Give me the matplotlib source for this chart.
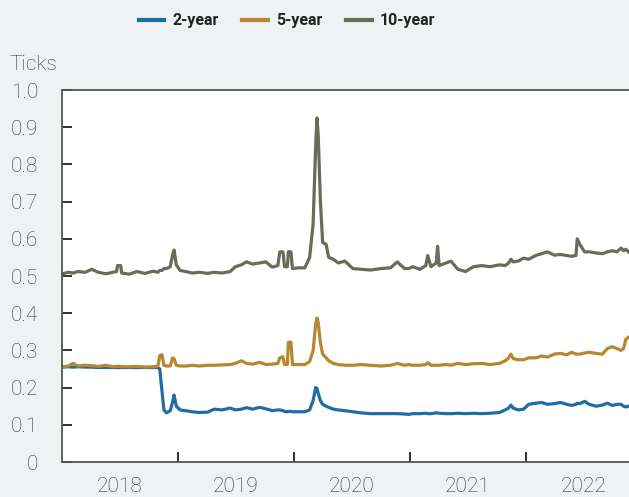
import numpy as np
import pandas as pd
import matplotlib
matplotlib.use("Agg")
import matplotlib.pyplot as plt
from matplotlib.ticker import FuncFormatter

dates = [
    "2018-01-01", "2018-01-20", "2018-02-05", "2018-02-20", "2018-03-15", "2018-04-05",
    "2018-04-25", "2018-05-20", "2018-06-10", "2018-06-22", "2018-06-25", "2018-07-05",
    "2018-07-08", "2018-08-01", "2018-08-25", "2018-09-20", "2018-10-15", "2018-10-30",
    "2018-11-05", "2018-11-12", "2018-11-18", "2018-11-26", "2018-12-08", "2018-12-15",
    "2018-12-20", "2018-12-27", "2019-01-08", "2019-01-25", "2019-02-15", "2019-03-10",
    "2019-04-05", "2019-04-25", "2019-05-20", "2019-06-15", "2019-07-01", "2019-07-20",
    "2019-08-05", "2019-08-25", "2019-09-15", "2019-10-05", "2019-10-25", "2019-11-12",
    "2019-11-18", "2019-11-28", "2019-12-03", "2019-12-12", "2019-12-15", "2019-12-23",
    "2019-12-28", "2020-01-15", "2020-02-05", "2020-02-20", "2020-03-02", "2020-03-10",
    "2020-03-14", "2020-03-18", "2020-03-25", "2020-04-01", "2020-04-12", "2020-04-20",
    "2020-05-05", "2020-05-20", "2020-06-10", "2020-07-05", "2020-08-01", "2020-08-30",
    "2020-10-01", "2020-11-01", "2020-11-22", "2020-12-15", "2020-12-28", "2021-01-10",
    "2021-02-01", "2021-02-20", "2021-02-26", "2021-03-08", "2021-03-25", "2021-03-29",
    "2021-04-03", "2021-04-25", "2021-05-10", "2021-06-01", "2021-06-25", "2021-07-20",
    "2021-08-15", "2021-09-10", "2021-10-10", "2021-10-28", "2021-11-08", "2021-11-15",
    "2021-11-22", "2021-12-08", "2021-12-25", "2022-01-10", "2022-02-01", "2022-02-20",
    "2022-03-10", "2022-04-01", "2022-04-20", "2022-05-10", "2022-05-25", "2022-06-08",
    "2022-06-12", "2022-06-20", "2022-07-05", "2022-07-20", "2022-08-10", "2022-08-30",
    "2022-09-15", "2022-09-30", "2022-10-15", "2022-10-28", "2022-11-05", "2022-11-12",
    "2022-11-20",
]

two_year = [
    .255, .256, .255, .256, .255, .255, .254, .254, .254, .254, .254, .254,
    .254, .254, .254, .254, .254, .254, .250, .190, .140, .132, .138, .160,
    .180, .150, .140, .138, .135, .133, .134, .142, .140, .145, .140, .142,
    .146, .142, .147, .143, .138, .140, .140, .138, .136, .135, .136, .136,
    .135, .135, .135, .140, .165, .200, .198, .185, .165, .155, .150, .147,
    .142, .140, .138, .135, .132, .130, .130, .130, .130, .129, .128, .130,
    .130, .131, .130, .130, .132, .132, .131, .130, .130, .131, .130, .131,
    .130, .131, .133, .140, .145, .153, .145, .140, .142, .155, .158, .160,
    .155, .157, .160, .155, .152, .155, .158, .157, .163, .155, .150, .153,
    .158, .152, .155, .155, .150, .148, .150,
]

five_year = [
    .255, .258, .265, .258, .260, .259, .257, .260, .256, .257, .257, .257,
    .256, .256, .257, .255, .256, .258, .286, .288, .260, .258, .258, .280,
    .278, .260, .258, .258, .260, .258, .260, .260, .261, .262, .265, .272,
    .265, .263, .268, .262, .263, .265, .280, .283, .262, .262, .322, .322,
    .262, .262, .262, .270, .300, .370, .387, .375, .320, .290, .280, .272,
    .265, .262, .260, .260, .262, .260, .258, .260, .265, .260, .262, .260,
    .260, .262, .267, .260, .260, .260, .260, .262, .260, .265, .262, .264,
    .265, .262, .265, .272, .280, .290, .278, .275, .275, .280, .280, .285,
    .282, .290, .292, .288, .295, .290, .290, .290, .293, .295, .292, .290,
    .305, .310, .305, .300, .305, .330, .335,
]

ten_year = [
    .505, .510, .508, .512, .510, .518, .510, .506, .510, .512, .528, .528,
    .508, .505, .512, .507, .513, .510, .515, .515, .520, .520, .525, .555,
    .570, .530, .515, .512, .508, .510, .507, .510, .508, .512, .525, .530,
    .538, .532, .535, .538, .524, .528, .565, .565, .525, .525, .565, .565,
    .520, .522, .522, .550, .640, .850, .925, .880, .700, .590, .585, .550,
    .545, .535, .540, .520, .518, .516, .520, .522, .538, .520, .520, .525,
    .518, .528, .555, .525, .535, .580, .528, .535, .540, .518, .512, .525,
    .528, .525, .530, .528, .535, .545, .538, .540, .548, .545, .555, .560,
    .565, .556, .558, .555, .553, .555, .600, .585, .565, .565, .562, .560,
    .565, .568, .565, .575, .568, .572, .565,
]

series_names = ["2-year", "5-year", "10-year"]
colors = ["#1f6ea3", "#b8862f", "#6b6b5c"]

x = pd.to_datetime(dates)
bg = "#eef2f3"

plt.rcParams['font.family'] = ['Roboto', 'DejaVu Sans']

fig = plt.figure(figsize=(6.29, 4.97), dpi=100, facecolor=bg)
ax = fig.add_axes([62/629, 35/497, 1 - 62/629, 372/497])
ax.set_facecolor("white")

for vals, name, c in zip([two_year, five_year, ten_year], series_names, colors):
    ax.plot(x, vals, color=c, lw=2.3, label=name, solid_joinstyle="round")

ax.set_ylim(0, 1.0)
ax.set_yticks(np.arange(0, 1.01, 0.1))
ax.yaxis.set_major_formatter(FuncFormatter(lambda v, p: "0" if abs(v) < 1e-9 else f"{v:.1f}"))
ax.set_xlim(pd.Timestamp("2018-01-01"), pd.Timestamp("2022-11-22"))

years = [2018, 2019, 2020, 2021, 2022]
ax.set_xticks([pd.Timestamp(f"{y}-01-01") for y in years[1:]])
ax.set_xticklabels([])
ax.set_xticks([pd.Timestamp(f"{y}-07-02") for y in years], minor=True)
ax.set_xticklabels([str(y) for y in years], minor=True)

ax.tick_params(axis="x", which="major", direction="in", length=7, width=1.3, color="#222")
ax.tick_params(axis="x", which="minor", length=0, pad=11, labelsize=15, labelcolor="#333")
ax.tick_params(axis="y", direction="in", length=7.5, width=1.3, color="#222",
               pad=17, labelsize=15, labelcolor="#333")
for lbl in ax.get_yticklabels() + ax.get_xticklabels(minor=True):
    lbl.set_fontweight("light")

for side in ["left", "top", "bottom"]:
    ax.spines[side].set_color("#555")
    ax.spines[side].set_linewidth(1.3)
ax.spines["right"].set_visible(False)

fig.text(9/629, 1 - 65/497, "Ticks", fontsize=15, color="#333", va="center",
         ha="left", fontweight="light")

leg = fig.legend(loc="center", bbox_to_anchor=(287/629, 1 - 21/497), ncol=3, frameon=False,
                 handlelength=1.6, handletextpad=0.5, columnspacing=1.5,
                 prop={"size": 11.5, "weight": "bold"})
for line in leg.get_lines():
    line.set_linewidth(3)
for t in leg.get_texts():
    t.set_color("#222")

fig.savefig("out.png", dpi=100, facecolor=bg)
